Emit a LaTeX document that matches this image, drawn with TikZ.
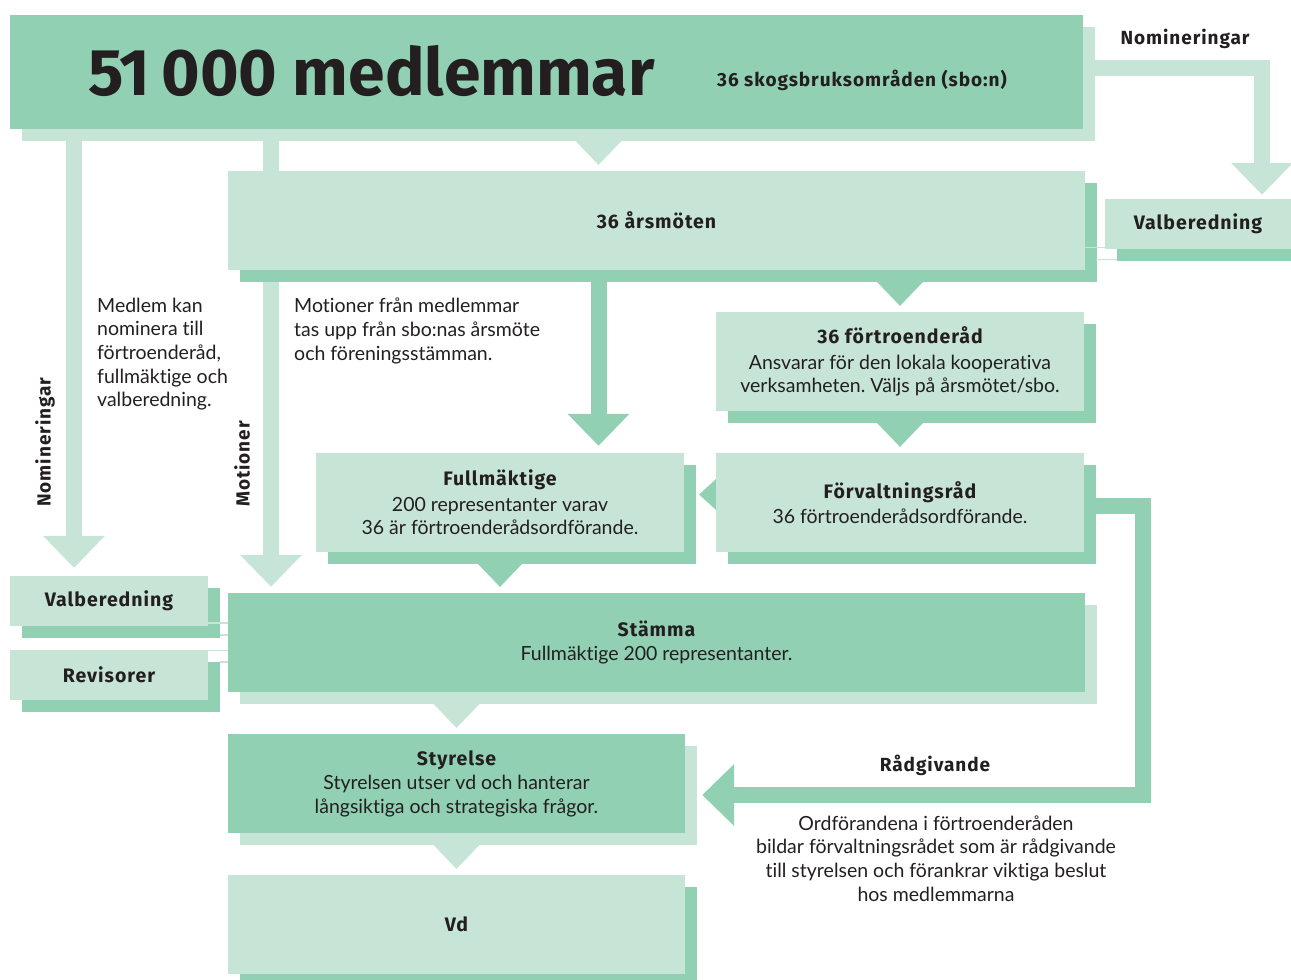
\documentclass[tikz,border=0pt]{standalone}
\usepackage{fontspec}
\setmainfont{Lato}[Ligatures=NoCommon]
\newfontfamily\hfont{Fira Sans}[LetterSpace=5]
\newfontfamily\tfont{Fira Sans}
\usepackage{tikz}
\usetikzlibrary{arrows.meta}
\usetikzlibrary{shadows,backgrounds}

\definecolor{dgreen}{HTML}{91D0B3}
\definecolor{lgreen}{HTML}{C7E5D6}
\definecolor{ink}{HTML}{231F20}
\newcommand{\hd}[1]{{\hfont\bfseries #1}}
\frenchspacing

\tikzset{
  body/.style={font=\fontsize{19.5}{23.6}\selectfont, text=ink},
  dbox/.style={body, fill=dgreen, inner sep=0pt, align=center,
    drop shadow={shadow xshift=12pt, shadow yshift=-12pt, fill=lgreen, opacity=1}},
  lbox/.style={body, fill=lgreen, inner sep=0pt, align=center,
    drop shadow={shadow xshift=12pt, shadow yshift=-12pt, fill=dgreen, opacity=1}},
  lbl/.style={font=\hfont\bfseries\fontsize{19}{22}\selectfont, text=ink, inner sep=0pt},
  bigl/.style={line width=16pt, draw=lgreen, -{Triangle[width=60pt,length=32pt]}},
  bigd/.style={line width=16pt, draw=dgreen, -{Triangle[width=60pt,length=32pt]}},
  ptrl/.style={line width=0.1pt, draw=lgreen, -{Triangle[width=46pt,length=24pt]}, shorten >=6pt},
  ptrd/.style={line width=0.1pt, draw=dgreen, -{Triangle[width=46pt,length=24pt]}, shorten >=6pt},
  link/.style={draw=lgreen, line width=1.5pt},
}

\begin{document}
\begin{tikzpicture}[x=1pt,y=-1pt]
  \useasboundingbox (0,0) rectangle (1291,980);
  % top row
  \node[dbox, minimum width=1073pt, minimum height=114pt] (top) at (546.5,72) {};
  \node[font=\tfont\bfseries\fontsize{66}{66}\selectfont, text=ink, anchor=base west, inner sep=0pt]
    (title) at (88,95) {51\,000 medlemmar};
  \node[lbl] (sbo) at (862,80) {36 skogsbruksområden (sbo:n)};
  \node[lbl] (nomr) at (1185,39) {Nomineringar};
  % arsmoten and side boxes
  \node[lbox, minimum width=857pt, minimum height=99pt] (arsm) at (656.5,220.5) {\hd{36 årsmöten}};
  \node[lbox, minimum width=186pt, minimum height=50pt] (valbR) at (1198,224) {\hd{Valberedning}};
  \node[lbox, minimum width=368pt, minimum height=99pt] (fort) at (900,361.5)
    {\hd{36 förtroenderåd}\\[2pt]Ansvarar för den lokala kooperativa\\verksamheten. Väljs på årsmötet/sbo.};
  \node[lbox, minimum width=368pt, minimum height=99pt] (forv) at (900,502.5)
    {\hd{Förvaltningsråd}\\[2pt]36 förtroenderådsordförande.};
  \node[lbox, minimum width=368pt, minimum height=99pt] (fullm) at (500,502.5)
    {\hd{Fullmäktige}\\[2pt]200 representanter varav\\36 är förtroenderådsordförande.};
  % lower column
  \node[lbox, minimum width=198pt, minimum height=50pt] (valbL) at (109,601) {\hd{Valberedning}};
  \node[lbox, minimum width=198pt, minimum height=50pt] (rev) at (109,674.5) {\hd{Revisorer}};
  \node[dbox, minimum width=857pt, minimum height=99pt] (stam) at (656.5,642.5)
    {\hd{Stämma}\\[1pt]Fullmäktige 200 representanter.};
  \node[dbox, minimum width=457pt, minimum height=99pt] (styr) at (456.5,783.5)
    {\hd{Styrelse}\\[1pt]Styrelsen utser vd och hanterar\\långsiktiga och strategiska frågor.};
  \node[lbox, minimum width=457pt, minimum height=99pt] (vd) at (456.5,924.5) {\hd{Vd}};
  % free texts
  \node[lbl, rotate=90, anchor=west] (noml) at (45,507) {Nomineringar};
  \node[lbl, rotate=90, anchor=west] (motl) at (242,507) {Motioner};
  \node[body, anchor=west, align=left, inner sep=0pt] (medl) at (97,354)
    {Medlem kan\\nominera till\\förtroenderåd,\\fullmäktige och\\valberedning.};
  \node[body, anchor=west, align=left, inner sep=0pt] (moti) at (294,331)
    {Motioner från medlemmar\\tas upp från sbo:nas årsmöte\\och föreningsstämman.};
  \node[lbl] (radl) at (935,765) {Rådgivande};
  \node[body, align=center, inner sep=0pt] (radt) at (936,858.5)
    {Ordförandena i förtroenderåden\\bildar förvaltningsrådet som är rådgivande\\till styrelsen och förankrar viktiga beslut\\hos medlemmarna};
  % thin links
  \draw[link] (arsm.east |- valbR.south) ++(0,-1.5) -- ++(20,0);
  \draw[link] (arsm.east |- valbR.south) ++(11,10.5) -- ++(21,0);
  \draw[link] (valbL.south east) ++(0,-3) -- ++(20,0);
  \draw[link] (valbL.south east) ++(12,9) -- ++(8,0);
  \draw[link] (rev.north east) ++(0,1) -- ++(20,0);
  \draw[link] (rev.north east) ++(12,12.5) -- ++(8,0);
  % arrows
  \coordinate (nomx) at (74,0);
  \coordinate (motx) at (271,0);
  \coordinate (nomrx) at (1262,0);
  \coordinate (mid) at (598.5,0);
  \coordinate (rad) at (1143,795);
  \begin{scope}[on background layer]
    \draw[bigl, shorten >=8pt] (nomx |- top.center) -- (nomx |- valbL.north);
    \draw[bigl, shorten >=6pt] (motx |- top.center) -- (motx |- stam.north);
    \draw[bigl, shorten >=4pt] ([yshift=4pt]top.center) -| (nomrx |- valbR.north);
    \draw[bigd, shorten >=7pt] (mid |- arsm.center) -- (mid |- fullm.north);
    \draw[bigd, shorten >=17pt] ([yshift=-3.5pt]forv.center) -| (rad) -- (styr.east |- rad);
    \draw[ptrl] (mid |- top.center) -- (mid |- arsm.north);
    \draw[ptrd] (fort.north |- arsm.center) -- (fort.north);
    \draw[ptrd] (fort.center) -- (forv.north);
    \draw[ptrd] (fullm.center) -- (fullm.center |- stam.north);
    \draw[ptrl] (styr.north |- stam.center) -- (styr.north);
    \draw[ptrl] (vd.north |- styr.center) -- (vd.north);
    \draw[line width=0.1pt, draw=dgreen, -{Triangle[width=31pt,length=17pt]}, shorten >=15pt]
      ([yshift=8pt]forv.center) -- ([yshift=8pt]fullm.east);
  \end{scope}
\end{tikzpicture}
\end{document}
